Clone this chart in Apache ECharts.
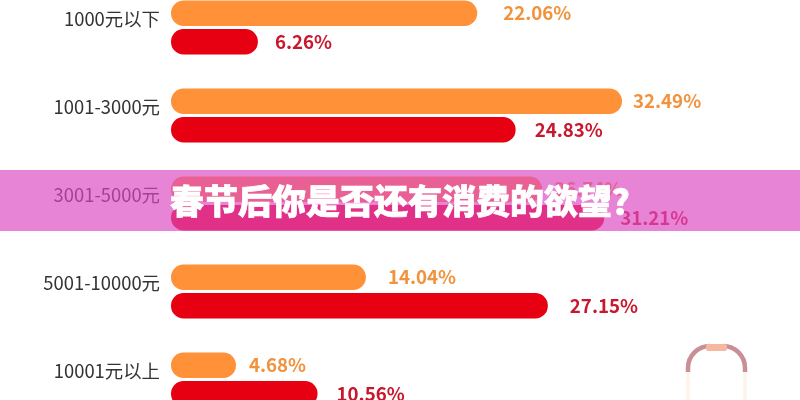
<!DOCTYPE html>
<html><head><meta charset="utf-8">
<style>html,body{margin:0;padding:0;background:#fff}#c{width:800px;height:400px}</style>
<script src="https://cdn.jsdelivr.net/npm/echarts@6/dist/echarts.min.js"></script>
</head><body><div id="c"></div>
<script>
const categories = ['1000元以下','1001-3000元','3001-5000元','5001-10000元','10001元以上'];
const orangeValues = [22.06,32.49,26.74,14.04,4.68];
const redValues = [6.26,24.83,31.21,27.15,10.56];
const orangeGaps = [26,11,12,22,13];
const redGaps = [17,19,16,22,19];
const titleText = '春节后你是否还有消费的欲望？';

const font = '"Noto Sans CJK SC","Noto Sans",sans-serif';
const toData = (vals, gaps) => vals.map((v,i)=>({value:v,label:{distance:gaps[i]}}));
const labelFor = color => ({show:true,position:'right',fontFamily:font,fontSize:18.7,fontWeight:700,color,
  formatter:p=>p.value.toFixed(2)+'%'});
const bagStroke = {stroke:'#c98f96',lineWidth:4.5,fill:null};

const chart = echarts.init(document.getElementById('c'),null,{renderer:'canvas'});
chart.setOption({
  animation:false,
  backgroundColor:'#fff',
  grid:{left:171,top:-16.5,width:694,height:440,containLabel:false,outerBoundsMode:'none'},
  xAxis:{type:'value',min:0,max:50,show:false},
  yAxis:{type:'category',inverse:true,data:categories,
    axisLine:{show:false},axisTick:{show:false},splitLine:{show:false},
    axisLabel:{margin:11,fontFamily:font,fontSize:18.4,color:'#333',verticalAlign:'bottom',lineHeight:16}},
  series:[
    {type:'bar',name:'orange',data:toData(orangeValues,orangeGaps),barWidth:25.5,barGap:'12%',
      itemStyle:{color:'#ff9138',borderRadius:12.5},label:labelFor('#f0933c')},
    {type:'bar',name:'red',data:toData(redValues,redGaps),barWidth:25.5,barGap:'12%',
      itemStyle:{color:'#e60012',borderRadius:12.5},label:labelFor('#c9172e')}
  ],
  graphic:[
    {type:'group',z:50,children:[
      {type:'arc',shape:{cx:710,cy:368,r:22,startAngle:Math.PI,endAngle:Math.PI*1.5},style:bagStroke},
      {type:'arc',shape:{cx:723,cy:368,r:22,startAngle:Math.PI*1.5,endAngle:Math.PI*2},style:bagStroke},
      {type:'line',shape:{x1:688,y1:368,x2:688,y2:372},style:bagStroke},
      {type:'line',shape:{x1:745,y1:368,x2:745,y2:372},style:bagStroke},
      {type:'rect',shape:{x:706,y:344,width:21,height:7,r:2},style:{fill:'#f7b8a2'}},
      {type:'line',shape:{x1:688,y1:372,x2:688,y2:400},style:{stroke:'#fdf3e7',lineWidth:3.5}},
      {type:'line',shape:{x1:745,y1:372,x2:745,y2:400},style:{stroke:'#fdf3e7',lineWidth:3.5}}
    ]},
    {type:'rect',z:100,shape:{x:0,y:170,width:800,height:61},style:{fill:'rgba(221,72,194,0.67)'}},
    {type:'text',z:101,x:170,y:201,style:{text:titleText,fontFamily:font,fontWeight:900,fontSize:34,
      fill:'#fff',textVerticalAlign:'middle',stroke:'#fff',lineWidth:0.7}}
  ]
});
</script></body></html>
